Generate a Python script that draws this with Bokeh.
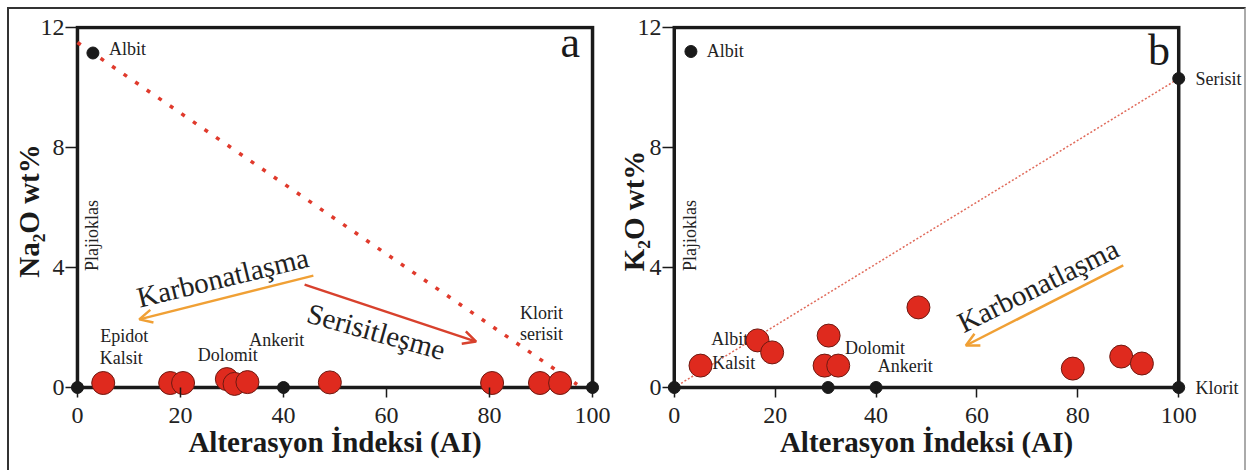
import math
from bokeh.plotting import figure
from bokeh.models import Range1d, FixedTicker, Arrow, OpenHead, ColumnDataSource, LinearAxis
from bokeh.layouts import row
from bokeh.embed import file_html
from bokeh.resources import INLINE
from bokeh.core.properties import value

FONT = "'Liberation Serif', serif"

# ---------------- shared axis definitions ----------------
x_ticks = [0, 20, 40, 60, 80, 100]
y_ticks = [0, 4, 8, 12]
x_title = "Alterasyon İndeksi (AI)"

# ---------------- panel a : Na2O vs AI ----------------
a_red_ai = [5, 18, 20.5, 29, 30.5, 33, 49, 80.5, 89.8, 93.7]
a_red_na2o = [0.15, 0.15, 0.15, 0.28, 0.12, 0.18, 0.17, 0.15, 0.15, 0.15]
a_end_ai = [0, 40, 100, 3]
a_end_na2o = [0, 0, 0, 11.15]
a_trend_ai = [0, 97]
a_trend_na2o = [11.5, 0.1]
a_names = ["Albit", "Epidot", "Kalsit", "Dolomit", "Ankerit", "Klorit", "serisit"]
a_names_ai = [9.7, 9.1, 8.5, 29.2, 38.7, 90.1, 90.1]
a_names_y = [11.27, 1.73, 1.0, 1.1, 1.57, 2.5, 1.8]

# ---------------- panel b : K2O vs AI ----------------
b_red_ai = [5.2, 16.5, 19.4, 30.6, 29.8, 32.5, 48.4, 79, 88.6, 92.7]
b_red_k2o = [0.73, 1.57, 1.17, 1.73, 0.73, 0.73, 2.67, 0.63, 1.03, 0.8]
b_end_ai = [0, 30.5, 40, 100, 100, 3.3]
b_end_k2o = [0, 0, 0, 0, 10.3, 11.2]
b_trend_ai = [0, 100]
b_trend_k2o = [0, 10.3]
b_names = ["Albit", "Albit", "Kalsit", "Dolomit", "Ankerit"]
b_names_ai = [10.1, 11.0, 11.8, 39.8, 45.8]
b_names_y = [11.23, 1.63, 0.83, 1.33, 0.73]
b_end_names = {0: "Klorit", 10.3: "Serisit"}

RED = "#DF2A1E"
ORANGE = "#F0A035"
ARROW_RED = "#D8412D"
INK = "#1a1a1a"


def make_panel(width, mb_left, mb_right, ytitle, ytitle_standoff, plaj_x):
    p = figure(width=width, height=465, output_backend="svg", toolbar_location=None,
               x_range=Range1d(-1.741, 101.741), y_range=Range1d(-0.3, 12.0667),
               min_border_left=mb_left, min_border_right=mb_right,
               min_border_top=16, min_border_bottom=78,
               background_fill_color="white", border_fill_color="white")
    p.outline_line_color = None
    p.grid.visible = False
    for ax in (p.xaxis, p.yaxis):
        ax.axis_line_color = None
        ax.major_tick_in = 9
        ax.major_tick_line_color = INK
        ax.major_tick_line_width = 1.5
        ax.minor_tick_line_color = None
        ax.major_label_text_font = FONT
        ax.major_label_text_font_size = "24px"
        ax.major_label_text_color = "#222222"
        ax.axis_label_text_font = FONT
        ax.axis_label_text_font_style = "bold"
        ax.axis_label_text_font_size = "29px"
        ax.axis_label_text_color = INK
    p.xaxis.ticker = FixedTicker(ticks=x_ticks)
    p.yaxis.ticker = FixedTicker(ticks=y_ticks)
    p.xaxis.major_tick_out = 1
    p.yaxis.major_tick_out = 3
    p.xaxis.major_label_standoff = 10
    p.yaxis.major_label_standoff = 1
    p.xaxis.axis_label = x_title
    p.xaxis.axis_label_standoff = 0
    p.yaxis.axis_label = ytitle
    p.yaxis.axis_label_standoff = ytitle_standoff
    # frame box on the axis limits
    x0, x1 = x_ticks[0], x_ticks[-1]
    y0, y1 = y_ticks[0], y_ticks[-1]
    p.line([x0, x1, x1, x0, x0], [y0, y0, y1, y1, y0], line_color=INK,
           line_width=3.5, line_join="miter")
    p.text(x=[plaj_x], y=[5.07], text=["Plajioklas"], angle=math.pi / 2,
           text_font=value(FONT), text_font_size="18px", text_align="center",
           text_baseline="middle", text_color="#222222")
    return p


# ---------- panel a ----------
p1 = make_panel(605, 57, 13, "Na₂O wt%", -7, 2.9)
p1.line(a_trend_ai, a_trend_na2o, line_color="#E03A2C", line_width=3.5, line_dash="4 10")
src_a = ColumnDataSource(dict(x=a_names_ai, y=a_names_y, t=a_names))
p1.text(x="x", y="y", text="t", source=src_a, text_font=value(FONT), text_font_size="18px",
        text_align="center", text_baseline="middle", text_color="#222222")
p1.text(x=[28.2], y=[3.67], text=["Karbonatlaşma"], angle=math.radians(13.6),
        text_font=value(FONT), text_font_size="29px", text_align="center",
        text_baseline="middle", text_color="#222222")
p1.text(x=[58.0], y=[1.87], text=["Serisitleşme"], angle=math.radians(-15.6),
        text_font=value(FONT), text_font_size="29px", text_align="center",
        text_baseline="middle", text_color="#222222")
p1.text(x=[95.7], y=[11.5], text=["a"], text_font=value(FONT), text_font_size="44px",
        text_align="center", text_baseline="middle", text_color=INK)
p1.add_layout(Arrow(end=OpenHead(size=13, line_color=ORANGE, line_width=2.5),
                    x_start=45.8, y_start=3.73, x_end=12.0, y_end=2.27,
                    line_color=ORANGE, line_width=2.5))
p1.add_layout(Arrow(end=OpenHead(size=13, line_color=ARROW_RED, line_width=2.5),
                    x_start=44.1, y_start=3.43, x_end=77.4, y_end=1.53,
                    line_color=ARROW_RED, line_width=2.5))
p1.scatter(a_end_ai, a_end_na2o, size=12, fill_color=INK, line_color=INK)
p1.scatter(a_red_ai, a_red_na2o, size=23, fill_color=RED, line_color="#6e1a12", line_width=1)

# ---------- panel b ----------
p2 = make_panel(630, 45, 50, "K₂O wt%", -15, 3.1)
p2.line(b_trend_ai, b_trend_k2o, line_color="#E06A5A", line_width=1.5, line_dash="2 2")
src_b = ColumnDataSource(dict(x=b_names_ai, y=b_names_y, t=b_names))
p2.text(x="x", y="y", text="t", source=src_b, text_font=value(FONT), text_font_size="18px",
        text_align="center", text_baseline="middle", text_color="#222222")
p2.text(x=[72.1], y=[3.4], text=["Karbonatlaşma"], angle=math.radians(26.3),
        text_font=value(FONT), text_font_size="29px", text_align="center",
        text_baseline="middle", text_color="#222222")
p2.text(x=[96.1], y=[11.23], text=["b"], text_font=value(FONT), text_font_size="44px",
        text_align="center", text_baseline="middle", text_color=INK)
p2.add_layout(Arrow(end=OpenHead(size=13, line_color=ORANGE, line_width=2.5),
                    x_start=89.0, y_start=4.07, x_end=57.8, y_end=1.4,
                    line_color=ORANGE, line_width=2.5))
# end-member names on the right edge (Klorit, Serisit)
end_axis = LinearAxis(ticker=FixedTicker(ticks=list(b_end_names.keys())),
                      major_label_overrides={k: v for k, v in b_end_names.items()},
                      axis_line_color=None, major_tick_line_color=None,
                      minor_tick_line_color=None, major_label_standoff=2,
                      major_label_text_font=FONT, major_label_text_font_size="18px",
                      major_label_text_color="#222222")
p2.add_layout(end_axis, "right")
p2.scatter(b_end_ai, b_end_k2o, size=12, fill_color=INK, line_color=INK)
p2.scatter(b_red_ai, b_red_k2o, size=23, fill_color=RED, line_color="#6e1a12", line_width=1)

layout = row(p1, p2, margin=(7, 0, 0, 7),
             styles={"border-top": "2px solid #333", "border-left": "2px solid #333",
                     "border-right": "2px solid #aaa"})

open("out.html", "w").write(file_html(layout, INLINE))
